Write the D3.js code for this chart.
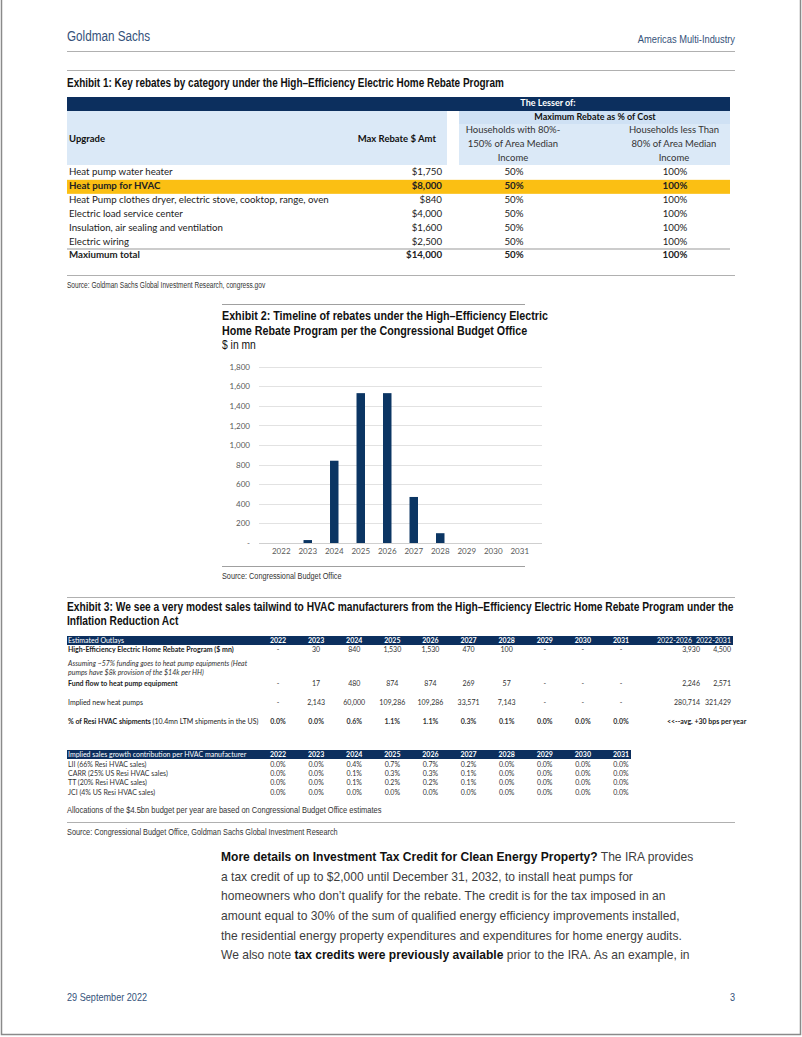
<!DOCTYPE html>
<html>
<head>
<meta charset="utf-8">
<script src="https://cdn.jsdelivr.net/npm/d3@7"></script>
<style>
  body { margin: 0; background: #fff; }
  svg { display: block; }
  .cond { font-family: "Liberation Sans", Arial, sans-serif; }
  .cal { font-family: Lato, "Open Sans", sans-serif; }
  .body { font-family: "Liberation Sans", Arial, sans-serif; }
</style>
</head>
<body>
<script>
// Exhibit 1 data
const upgrades = ['Heat pump water heater', 'Heat pump for HVAC', 'Heat Pump clothes dryer, electric stove, cooktop, range, oven',
  'Electric load service center', 'Insulation, air sealing and ventilation', 'Electric wiring', 'Maxiumum total'];
const maxRebate = ['$1,750', '$8,000', '$840', '$4,000', '$1,600', '$2,500', '$14,000'];
const share80to150 = ['50%', '50%', '50%', '50%', '50%', '50%', '50%'];
const shareBelow80 = ['100%', '100%', '100%', '100%', '100%', '100%', '100%'];

// Exhibit 2 data
const years = ['2022', '2023', '2024', '2025', '2026', '2027', '2028', '2029', '2030', '2031'];
const rebates = [0, 30, 840, 1530, 1530, 470, 100, 0, 0, 0];
const yTicks = [0, 200, 400, 600, 800, 1000, 1200, 1400, 1600, 1800];

// Exhibit 3 data
const outlays = ['-', '30', '840', '1,530', '1,530', '470', '100', '-', '-', '-'];
const outlaysSum = ['3,930', '4,500'];
const fundFlow = ['-', '17', '480', '874', '874', '269', '57', '-', '-', '-'];
const fundFlowSum = ['2,246', '2,571'];
const heatPumps = ['-', '2,143', '60,000', '109,286', '109,286', '33,571', '7,143', '-', '-', '-'];
const heatPumpsSum = ['280,714', '321,429'];
const resiShare = ['0.0%', '0.0%', '0.6%', '1.1%', '1.1%', '0.3%', '0.1%', '0.0%', '0.0%', '0.0%'];
const sumCols = ['2022-2026', '2022-2031'];
const makers = ['LII (66% Resi HVAC sales)', 'CARR (25% US Resi HVAC sales)', 'TT (20% Resi HVAC sales)', 'JCI (4% US Resi HVAC sales)'];
const contrib = [
  ['0.0%', '0.0%', '0.4%', '0.7%', '0.7%', '0.2%', '0.0%', '0.0%', '0.0%', '0.0%'],
  ['0.0%', '0.0%', '0.1%', '0.3%', '0.3%', '0.1%', '0.0%', '0.0%', '0.0%', '0.0%'],
  ['0.0%', '0.0%', '0.1%', '0.2%', '0.2%', '0.1%', '0.0%', '0.0%', '0.0%', '0.0%'],
  ['0.0%', '0.0%', '0.0%', '0.0%', '0.0%', '0.0%', '0.0%', '0.0%', '0.0%', '0.0%']
];

const W = 802, H = 1037;
const navy = '#0c2f5e', blue = '#0b3563', lightBlue = '#dbe9f7', gsBlue = '#35527a';

const svg = d3.select('body').append('svg')
  .attr('width', W)
  .attr('height', H);

// helpers
function text(g, x, y, s, cls, size, opts = {}) {
  const t = g.append('text')
    .attr('class', cls)
    .attr('font-size', size)
    .attr('fill', opts.fill || '#222')
    .attr('font-weight', opts.bold ? 'bold' : null)
    .attr('font-style', opts.italic ? 'italic' : null)
    .attr('text-anchor', opts.anchor || 'start')
    .attr('dominant-baseline', 'middle')
    .text(s);
  if (opts.sx) t.attr('transform', `translate(${x},${y}) scale(${opts.sx},1)`);
  else t.attr('x', x).attr('y', y);
  return t;
}
function rule(x1, x2, y, color = '#a0a0a0') {
  svg.append('line').attr('x1', x1).attr('x2', x2).attr('y1', y).attr('y2', y)
    .attr('stroke', color).attr('stroke-width', 1);
}
const title = (x, y, s, sx) => text(svg, x, y, s, 'cond', 12, { bold: true, fill: '#111', sx: sx });
const source = (x, y, s, sx) => text(svg, x, y, s, 'cond', 9, { fill: '#333', sx: sx });

// page frame
svg.append('path')
  .attr('d', `M1.5,0 V${H - 2.5} H${W - 1.5} V0`)
  .attr('fill', 'none').attr('stroke', '#8a8a8a').attr('stroke-width', 1.5);

// header
text(svg, 67, 37, 'Goldman Sachs', 'cond', 15, { fill: gsBlue, sx: 0.78 });
text(svg, 735, 40, 'Americas Multi-Industry', 'cond', 11.5, { fill: gsBlue, anchor: 'end', sx: 0.81 });
rule(67, 735, 51.5, '#b0b0b0');

// ---------- Exhibit 1 ----------
rule(67, 735, 70.5, '#b0b0b0');
title(67, 84, 'Exhibit 1: Key rebates by category under the High\u2013Efficiency Electric Home Rebate Program', 0.83);

const t1 = svg.append('g');
t1.append('rect').attr('x', 67).attr('y', 97).attr('width', 663).attr('height', 14).attr('fill', navy);
t1.append('rect').attr('x', 67).attr('y', 111).attr('width', 380).attr('height', 54).attr('fill', lightBlue);
t1.append('rect').attr('x', 459).attr('y', 111).attr('width', 271).attr('height', 54).attr('fill', lightBlue);
t1.append('rect').attr('x', 459).attr('y', 111).attr('width', 271).attr('height', 13).attr('fill', '#cfe1f4');
text(t1, 548, 104, 'The Lesser of:', 'cal', 9, { bold: true, fill: '#fff', anchor: 'middle' });
text(t1, 595, 117.5, 'Maximum Rebate as % of Cost', 'cal', 9, { bold: true, fill: '#111', anchor: 'middle' });
text(t1, 69, 140, 'Upgrade', 'cal', 9.5, { bold: true, fill: '#111' });
text(t1, 436, 140, 'Max Rebate $ Amt', 'cal', 9.5, { bold: true, fill: '#111', anchor: 'end' });
['Households with 80%-', '150% of Area Median', 'Income'].forEach((s, i) =>
  text(t1, 513, 131 + i * 14, s, 'cal', 9.5, { fill: '#333', anchor: 'middle' }));
['Households less Than', '80% of Area Median', 'Income'].forEach((s, i) =>
  text(t1, 674, 131 + i * 14, s, 'cal', 9.5, { fill: '#333', anchor: 'middle' }));

const rowY = d3.scalePoint().domain(d3.range(upgrades.length)).range([173, 256]);
t1.append('rect').attr('x', 67).attr('y', rowY(1) - 7).attr('width', 663).attr('height', 14).attr('fill', '#fbbf13');
rule(67, 730, rowY(6) - 7, '#999');
upgrades.forEach((u, i) => {
  const b = i === 1 || i === 6;
  text(t1, 69, rowY(i), u, 'cal', 9.7, { bold: b, fill: '#222' });
  text(t1, 442, rowY(i), maxRebate[i], 'cal', 9.7, { bold: b, fill: '#222', anchor: 'end' });
  text(t1, 514, rowY(i), share80to150[i], 'cal', 9.7, { bold: b, fill: '#222', anchor: 'middle' });
  text(t1, 675, rowY(i), shareBelow80[i], 'cal', 9.7, { bold: b, fill: '#222', anchor: 'middle' });
});
rule(67, 735, 275.5, '#b0b0b0');
source(67, 286, 'Source: Goldman Sachs Global Investment Research, congress.gov', 0.73);

// ---------- Exhibit 2 ----------
rule(222, 525, 304.5, '#a0a0a0');
title(222, 317, 'Exhibit 2: Timeline of rebates under the High\u2013Efficiency Electric', 0.895);
title(222, 331.5, 'Home Rebate Program per the Congressional Budget Office', 0.895);
text(svg, 222, 345.5, '$ in mn', 'cond', 12, { fill: '#111', sx: 0.86 });

const x = d3.scaleBand().domain(years).range([259, 542]).padding(0.68);
const y = d3.scaleLinear().domain([0, 1800]).range([543, 366.7]);

const chart = svg.append('g');
chart.append('g').selectAll('line').data(yTicks).join('line')
  .attr('x1', 259).attr('x2', 542)
  .attr('y1', d => Math.round(y(d)) + 0.5).attr('y2', d => Math.round(y(d)) + 0.5)
  .attr('stroke', d => d === 0 ? '#cfcfcf' : '#e2e2e2');

const yAxis = d3.axisLeft(y).tickValues(yTicks).tickSize(0).tickPadding(0)
  .tickFormat(d => d === 0 ? '-' : d3.format(',')(d));
chart.append('g').attr('transform', 'translate(250,0)').call(yAxis)
  .call(g => g.select('.domain').remove())
  .call(g => g.selectAll('text').attr('class', 'cal').attr('font-size', 8).attr('fill', '#595959'));

chart.selectAll('.bar').data(rebates).join('rect')
  .attr('class', 'bar')
  .attr('x', (d, i) => x(years[i]))
  .attr('y', d => y(d))
  .attr('width', x.bandwidth())
  .attr('height', d => y(0) - y(d))
  .attr('fill', blue);

const xAxis = d3.axisBottom(x).tickSize(0).tickPadding(0);
chart.append('g').attr('transform', 'translate(0,548)').call(xAxis)
  .call(g => g.select('.domain').remove())
  .call(g => g.selectAll('text').attr('class', 'cal').attr('font-size', 8).attr('fill', '#595959'));

rule(222, 525, 566.5, '#a0a0a0');
source(222, 577, 'Source: Congressional Budget Office', 0.81);

// ---------- Exhibit 3 ----------
rule(67, 735, 597.5, '#b0b0b0');
title(67, 608, 'Exhibit 3: We see a very modest sales tailwind to HVAC manufacturers from the High\u2013Efficiency Electric Home Rebate Program under the', 0.852);
title(67, 622, 'Inflation Reduction Act', 0.852);

const col = d3.scalePoint().domain(years).range([278, 621]);
const sumHead = [692, 731], sumX = [700, 731];
const fs = 7;
const t3 = svg.append('g');
t3.append('rect').attr('x', 67).attr('y', 636).attr('width', 666).attr('height', 9).attr('fill', navy);
text(t3, 68, 641, 'Estimated Outlays', 'cal', fs, { fill: '#fff' });
years.forEach(yr => text(t3, col(yr), 641, yr, 'cal', fs, { fill: '#fff', bold: true, anchor: 'middle' }));
sumCols.forEach((s, i) => text(t3, sumHead[i], 641, s, 'cal', fs, { fill: '#fff', anchor: 'end' }));

function dataRow(y0, label, vals, sums, bold, labelExtra) {
  const l = text(t3, 68, y0, label, 'cal', fs, { bold: bold, fill: '#222' });
  if (labelExtra) l.append('tspan').attr('font-weight', 'normal').text(labelExtra);
  vals.forEach((v, i) => text(t3, col(years[i]), y0, v, 'cal', fs, { fill: '#333', bold: bold === 'all', anchor: 'middle' }));
  if (sums) sums.forEach((v, i) => text(t3, sumX[i], y0, v, 'cal', fs, { fill: '#333', anchor: 'end' }));
}
dataRow(650, 'High-Efficiency Electric Home Rebate Program ($ mn)', outlays, outlaysSum, true);
text(t3, 68, 664, 'Assuming ~57% funding goes to heat pump equipments (Heat', 'cal', fs, { italic: true, fill: '#333' });
text(t3, 68, 673, 'pumps have $8k provision of the $14k per HH)', 'cal', fs, { italic: true, fill: '#333' });
dataRow(684, 'Fund flow to heat pump equipment', fundFlow, fundFlowSum, true);
dataRow(703, 'Implied new heat pumps', heatPumps, heatPumpsSum, false);
dataRow(722, '% of Resi HVAC shipments ', resiShare, null, 'all', '(10.4mn LTM shipments in the US)');
text(t3, 667, 722, '<<--avg. +30 bps per year', 'cal', fs, { bold: true, fill: '#222' });

t3.append('rect').attr('x', 67).attr('y', 750).attr('width', 564).attr('height', 9).attr('fill', navy);
text(t3, 68, 755, 'Implied sales growth contribution per HVAC manufacturer', 'cal', fs, { fill: '#fff' });
years.forEach(yr => text(t3, col(yr), 755, yr, 'cal', fs, { fill: '#fff', bold: true, anchor: 'middle' }));
makers.forEach((m, j) => {
  const yy = 765 + j * 9.3;
  text(t3, 68, yy, m, 'cal', fs, { fill: '#333' });
  contrib[j].forEach((v, i) => text(t3, col(years[i]), yy, v, 'cal', fs, { fill: '#333', anchor: 'middle' }));
});

source(67, 811, 'Allocations of the $4.5bn budget per year are based on Congressional Budget Office estimates', 0.835);
rule(67, 735, 822.5, '#b0b0b0');
source(67, 833, 'Source: Congressional Budget Office, Goldman Sachs Global Investment Research', 0.815);

// ---------- body text ----------
const para = [
  [['More details on Investment Tax Credit for Clean Energy Property?', true], [' The IRA provides', false]],
  [['a tax credit of up to $2,000 until December 31, 2032, to install heat pumps for', false]],
  [['homeowners who don\u2019t qualify for the rebate. The credit is for the tax imposed in an', false]],
  [['amount equal to 30% of the sum of qualified energy efficiency improvements installed,', false]],
  [['the residential energy property expenditures and expenditures for home energy audits.', false]],
  [['We also note ', false], ['tax credits were previously available', true], [' prior to the IRA. As an example, in', false]]
];
const pg = svg.append('g');
para.forEach((line, i) => {
  const t = pg.append('text')
    .attr('transform', `translate(221,${858 + i * 19.6}) scale(0.9,1)`)
    .attr('class', 'body').attr('font-size', 13.4)
    .attr('dominant-baseline', 'middle');
  line.forEach(([s, b]) => t.append('tspan')
    .attr('font-weight', b ? 'bold' : 'normal')
    .attr('fill', b ? '#111' : '#3d3d3d')
    .text(s));
});

// footer
text(svg, 67, 998, '29 September 2022', 'cond', 11, { fill: gsBlue, sx: 0.83 });
text(svg, 735, 998, '3', 'cond', 11, { fill: gsBlue, anchor: 'end', sx: 0.83 });
</script>
</body>
</html>
